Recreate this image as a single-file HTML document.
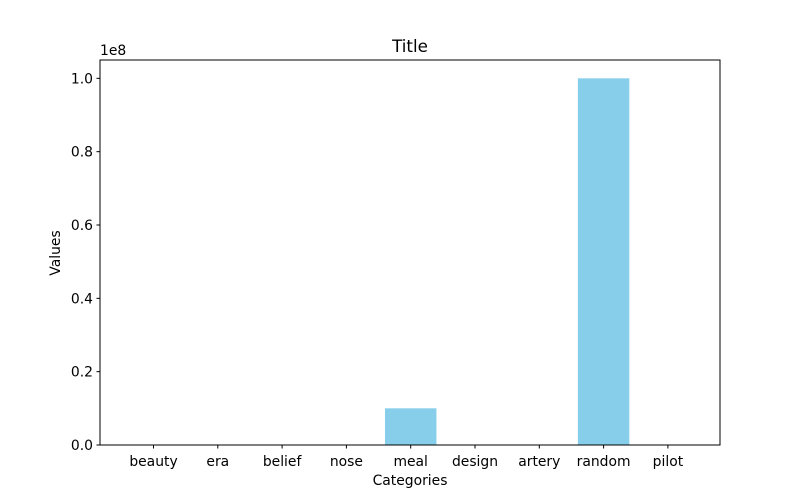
<!DOCTYPE html>
<html><head><meta charset="utf-8"><style>
html,body{margin:0;padding:0;background:#fff;}
svg{display:block;font-family:"DejaVu Sans","Liberation Sans",sans-serif;}
</style></head><body>
<svg id="chart" width="800" height="500" viewBox="0 0 800 500">
<rect width="800" height="500" fill="#fff"/>
<text x="410" y="52" font-size="16.7" text-anchor="middle">Title</text>
<text x="410" y="485" font-size="13.9" text-anchor="middle">Categories</text>
<text x="0" y="0" font-size="13.9" text-anchor="middle" transform="translate(60,253) rotate(-90)">Values</text>
<text x="100" y="55" font-size="13.9">1e8</text>
<g id="bars"></g>
<g id="yticks"></g>
<g id="xticks"></g>
<rect x="100" y="60" width="620" height="385" fill="none" stroke="#000" stroke-width="1"/>
</svg>
<script>
const categories = ["beauty","era","belief","nose","meal","design","artery","random","pilot"];
const values = [100, 50, 200, 80, 10000000, 150, 120, 100000000, 90];
const yTickValues = [0, 0.2e8, 0.4e8, 0.6e8, 0.8e8, 1.0e8];
const yTickLabels = ["0.0","0.2","0.4","0.6","0.8","1.0"];

const NS = "http://www.w3.org/2000/svg";
const plotLeft = 100, plotTop = 60, plotBottom = 445;
const yMax = 1.05e8;
const step = 64.3, firstX = 153.5;
function xScale(i){ return firstX + i*step; }
function yScale(v){ return plotBottom - (v/yMax)*(plotBottom-plotTop); }
const barW = step*0.8;

const gb = document.getElementById('bars');
values.forEach((v,i)=>{
  const r = document.createElementNS(NS,'rect');
  const y = yScale(v);
  r.setAttribute('x', xScale(i)-barW/2);
  r.setAttribute('y', y);
  r.setAttribute('width', barW);
  r.setAttribute('height', plotBottom-y);
  r.setAttribute('fill', '#87ceeb');
  
  
  gb.appendChild(r);
});

const gy = document.getElementById('yticks');
yTickValues.forEach((v,i)=>{
  const y = yScale(v);
  const l = document.createElementNS(NS,'line');
  l.setAttribute('x1', plotLeft-3.5); l.setAttribute('x2', plotLeft);
  l.setAttribute('y1', y); l.setAttribute('y2', y);
  l.setAttribute('stroke','#000');
  
  
  gy.appendChild(l);
  const t = document.createElementNS(NS,'text');
  t.setAttribute('x', plotLeft-7); t.setAttribute('y', y+5);
  t.setAttribute('font-size','13.9'); t.setAttribute('text-anchor','end');
  t.textContent = yTickLabels[i];
  
  
  gy.appendChild(t);
});

const gx = document.getElementById('xticks');
categories.forEach((c,i)=>{
  const x = xScale(i);
  const l = document.createElementNS(NS,'line');
  l.setAttribute('x1', x); l.setAttribute('x2', x);
  l.setAttribute('y1', plotBottom); l.setAttribute('y2', plotBottom+3.5);
  l.setAttribute('stroke','#000');
  
  
  gx.appendChild(l);
  const t = document.createElementNS(NS,'text');
  t.setAttribute('x', x); t.setAttribute('y', plotBottom+21);
  t.setAttribute('font-size','13.9'); t.setAttribute('text-anchor','middle');
  t.textContent = c;
  
  
  gx.appendChild(t);
});
</script>
</body></html>
